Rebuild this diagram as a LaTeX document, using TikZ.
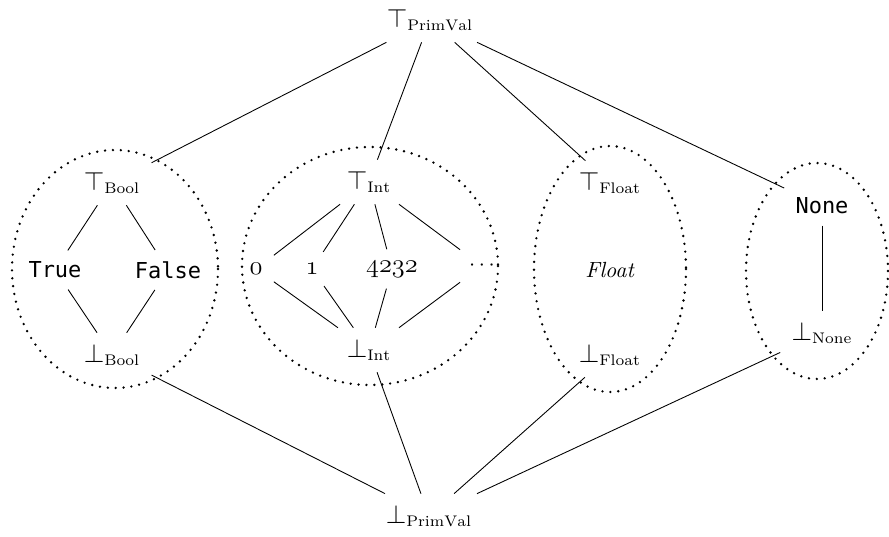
\documentclass[tikz,border=0pt]{standalone}
\usepackage{fontspec}
\newfontfamily\codefont{DejaVu Sans Mono}
\usepackage{tikz}

\newcommand{\lattop}[1]{$\mbox{\large$\top$}_{\mathrm{#1}}$}
\newcommand{\latbot}[1]{$\mbox{\large$\bot$}_{\mathrm{#1}}$}
\newcommand{\intval}[1]{{\large$\mathnormal{#1}$}}

\begin{document}
\begin{tikzpicture}[x=0.016cm, y=-0.016cm,
            elem/.style={inner sep=5pt},
            setring/.style={line width=1.2pt, line cap=round, dash pattern=on 0pt off 3.6pt}]
            \useasboundingbox (0,0) rectangle (889,537);

            % top and bottom of the whole lattice
            \node[elem] (topPV) at (430,20) {\lattop{PrimVal}};
            \node[elem] (botPV) at (429,516) {\latbot{PrimVal}};

            % Bool
            \draw[setring] (115,269) ellipse [x radius=103, y radius=119];
            \node[elem] (topBool) at (112,183) {\lattop{Bool}};
            \node[elem] (true) at (55,270) {\codefont True};
            \node[elem] (false) at (168,270) {\codefont False};
            \node[elem] (botBool) at (112,355) {\latbot{Bool}};

            % Int
            \draw[setring] (370,266) ellipse [x radius=128, y radius=119];
            \node[elem] (topInt) at (369,182) {\lattop{Int}};
            \node[elem] (zero) at (256,269) {\intval{0}};
            \node[elem] (one) at (312,269) {\intval{1}};
            \node[elem] (big) at (392,269) {\intval{4232}};
            \node[elem] (more) at (482,266) {$\cdots$};
            \node[elem] (botInt) at (369,350) {\latbot{Int}};

            % Float
            \draw[setring] (610,269) ellipse [x radius=76, y radius=123];
            \node[elem] (topFloat) at (610,183) {\lattop{Float}};
            \node[elem] (float) at (610,270) {\textit{Float}};
            \node[elem] (botFloat) at (610,355) {\latbot{Float}};

            % None
            \draw[setring] (817,271) ellipse [x radius=71, y radius=108];
            \node[elem] (none) at (822,206) {\codefont None};
            \node[elem] (botNone) at (822,333) {\latbot{None}};

            \draw (topPV) -- (topBool);
            \draw (topPV) -- (topInt);
            \draw (topPV) -- (topFloat);
            \draw (topPV) -- (none);

            \draw (topBool) -- (true);
            \draw (topBool) -- (false);
            \draw (true) -- (botBool);
            \draw (false) -- (botBool);

            \draw (topInt) -- (zero);
            \draw (topInt) -- (one);
            \draw (topInt) -- (big);
            \draw (topInt) -- (more);
            \draw (zero) -- (botInt);
            \draw (one) -- (botInt);
            \draw (big) -- (botInt);
            \draw (more) -- (botInt);

            \draw (none) -- (botNone);

            \draw (botBool) -- (botPV);
            \draw (botInt) -- (botPV);
            \draw (botFloat) -- (botPV);
            \draw (botNone) -- (botPV);
        \end{tikzpicture}
\end{document}
